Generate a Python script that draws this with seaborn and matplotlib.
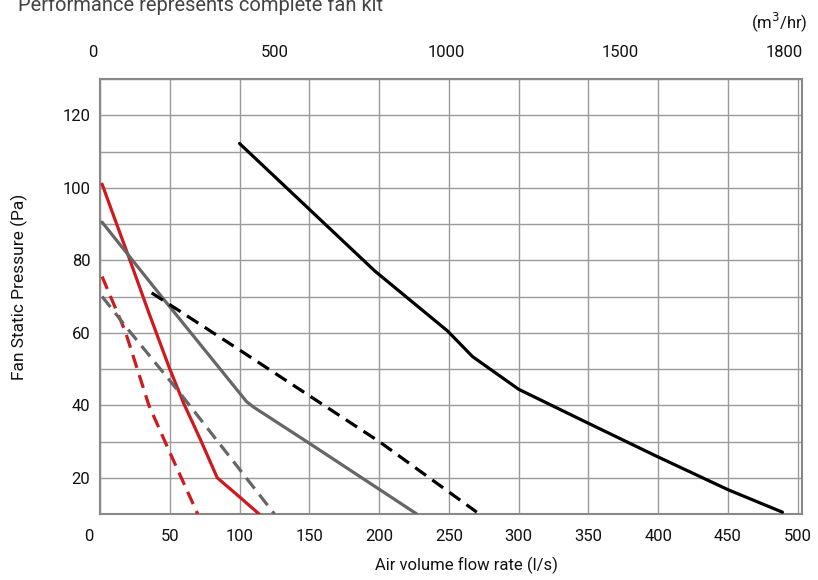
import matplotlib
matplotlib.use("Agg")
import matplotlib.pyplot as plt
import matplotlib.transforms as mtransforms
import seaborn as sns
import pandas as pd

# ---- data (l/s vs Pa) ----
red_solid_x = [1.5, 10, 21, 35, 50, 60, 72, 84, 100, 114]
red_solid_y = [101, 92, 80.5, 65.5, 50, 40.5, 30.5, 20, 14.7, 10]

red_dash_x = [1.5, 18, 35, 50, 70]
red_dash_y = [75.5, 60.5, 40, 27, 10]

gray_solid_x = [1.5, 43, 105, 110, 150, 227]
gray_solid_y = [90.5, 70.5, 41, 39.5, 29.5, 10]

gray_dash_x = [1.5, 21, 57, 125]
gray_dash_y = [70, 60.5, 43.5, 10]

black_dash_x = [37, 97, 200, 270]
black_dash_y = [71, 56, 30, 10.5]

black_solid_x = [100, 197, 249, 267, 300, 349, 399, 450, 489]
black_solid_y = [112.2, 77, 60.5, 53.4, 44.4, 35.2, 25.9, 16.7, 10.5]

bottom_ticks = [0, 50, 100, 150, 200, 250, 300, 350, 400, 450, 500]
left_ticks = [20, 40, 60, 80, 100, 120]
top_tick_pos = [0, 125, 248, 373, 490]
top_tick_labels = ["0", "500", "1000", "1500", "1800"]

series = [
    ("red_solid", red_solid_x, red_solid_y, "#d0181f", "-"),
    ("red_dash", red_dash_x, red_dash_y, "#d0181f", (0, (4.2, 2.4))),
    ("gray_solid", gray_solid_x, gray_solid_y, "#666666", "-"),
    ("gray_dash", gray_dash_x, gray_dash_y, "#666666", (0, (4.2, 2.4))),
    ("black_dash", black_dash_x, black_dash_y, "#000000", (0, (4.2, 2.4))),
    ("black_solid", black_solid_x, black_solid_y, "#000000", "-"),
]

sns.set_theme(style="white")
plt.rcParams["font.family"] = ["Roboto", "DejaVu Sans"]

fig = plt.figure(figsize=(8.18, 5.80), dpi=100)
ax = fig.add_axes([100 / 818, 1 - 514 / 580, (802 - 100) / 818, (514 - 79) / 580])

for name, xs, ys, col, ls in series:
    df = pd.DataFrame({"x": xs, "y": ys})
    sns.lineplot(data=df, x="x", y="y", ax=ax, color=col, sort=False,
                 linewidth=2.3, linestyle=ls, zorder=3)

ax.set_xlim(0, 503)
ax.set_ylim(10, 130)
ax.set_xticks(bottom_ticks)
ax.set_yticks(left_ticks)
ax.set_yticks(range(10, 131, 10), minor=True)
ax.grid(True, which="major", color="#9a9a9a", linewidth=1.0)
ax.grid(True, which="minor", axis="y", color="#9a9a9a", linewidth=1.0)
ax.tick_params(axis="both", which="both", length=0, labelsize=12, colors="#111111")
ax.tick_params(axis="y", pad=7)
ax.tick_params(axis="x", pad=11)
for sp in ax.spines.values():
    sp.set_color("#888888")
    sp.set_linewidth(1.5)

ax.set_xlabel("Air volume flow rate (l/s)", fontsize=12, color="#111111")
ax.set_ylabel("Fan Static Pressure (Pa)", fontsize=12.5, color="#111111")
ax.xaxis.set_label_coords((466 - 100) / 702, -(557 - 514) / 435)
ax.yaxis.set_label_coords(-(100 - 28) / 702, (514 - 287) / 435)

# shift the bottom "0" label left like the reference
lbl0 = ax.get_xticklabels()[0]
lbl0.set_transform(lbl0.get_transform() + mtransforms.ScaledTranslation(-11 / 100, 0, fig.dpi_scale_trans))

# top axis (m3/hr)
axt = ax.twiny()
axt.set_xlim(ax.get_xlim())
axt.set_xticks(top_tick_pos)
axt.set_xticklabels(top_tick_labels)
axt.tick_params(axis="x", length=0, labelsize=12, colors="#111111", pad=14)
for sp in axt.spines.values():
    sp.set_visible(False)
t0 = axt.get_xticklabels()[0]
t0.set_transform(t0.get_transform() + mtransforms.ScaledTranslation(-7 / 100, 0, fig.dpi_scale_trans))

fig.text(808 / 818, 1 - 22 / 580, "(m$^3$/hr)", ha="right", va="center", fontsize=12, color="#111111")
fig.text(18 / 818, 1 - 11 / 580, "Performance represents complete fan kit",
         ha="left", va="baseline", fontsize=14.5, color="#444444")

fig.savefig("out.png", dpi=100)
